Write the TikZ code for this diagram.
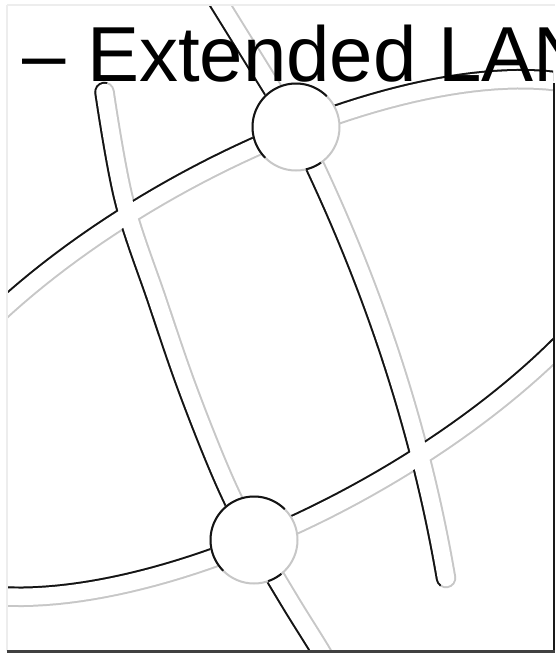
\documentclass[tikz,border=0pt]{standalone}
\usepackage{fontspec}
\setmainfont{Liberation Sans}
\definecolor{edgedark}{gray}{0.08}
\definecolor{edgelight}{gray}{0.78}
\definecolor{framelight}{gray}{0.93}
\newcommand\LeftMer[1]{\draw[#1] plot[smooth,tension=0.6] coordinates {(104.5,92) (124,200) (157,300) (188,390) (224,480) (254,540) (289,600) (320,650) (332,672)};}
\newcommand\RightMer[1]{\draw[#1] (200,-28) -- (296,127) .. controls (371,277) and (420.5,428) .. (446,578);}
\newcommand\EllHalf[3]{\draw[#1] plot[domain=#2:#3,samples=181,variable=\t] ({270+432*cos(\t)*0.8788-178*sin(\t)*0.4772},{338-432*cos(\t)*0.4772-178*sin(\t)*0.8788});}
\begin{document}
\begin{tikzpicture}[x=1pt,y=-1pt,
  bandout/.style={line width=20.5pt},
  bandin/.style={draw=white,line width=16.5pt},
  rim/.style={line width=2pt},
  hub/.style={circle,fill=white,draw=edgelight,line width=2pt,minimum size=87pt,inner sep=0pt}]
\useasboundingbox (0,0) rectangle (555,656);
\fill[white] (0,0) rectangle (555,656);
\begin{scope}
  \clip (7,5) rectangle (553,651);
  % light rims
  \EllHalf{edgelight,bandout}{0}{360}
  \LeftMer{edgelight,bandout,line cap=round}
  \RightMer{edgelight,bandout,line cap=round}
  % dark rims
  \begin{scope}
    \clip plot[domain=0:180,samples=181,variable=\t] ({270+432*cos(\t)*0.8788-178*sin(\t)*0.4772},{338-432*cos(\t)*0.4772-178*sin(\t)*0.8788}) -- (-300,-300) -- (900,-300) -- cycle;
    \EllHalf{edgedark,bandout}{0}{180}
  \end{scope}
  \begin{scope}
    \clip plot[domain=180:360,samples=181,variable=\t] ({270+432*cos(\t)*0.8788-178*sin(\t)*0.4772},{338-432*cos(\t)*0.4772-178*sin(\t)*0.8788}) -- (900,-300) -- (-300,-300) -- cycle;
    \EllHalf{edgedark,bandout}{180}{360}
  \end{scope}
  \begin{scope}
    \clip (149.5,-58) -- plot[smooth,tension=0.6] coordinates {(104.5,92) (124,200) (157,300) (188,390) (224,480) (254,540) (289,600) (320,650) (332,672)} -- (340,720) -- (-100,720) -- (-100,-58) -- cycle;
    \LeftMer{edgedark,bandout,line cap=round}
  \end{scope}
  \begin{scope}
    \clip (-100,-28) -- (200,-28) -- (296,127) .. controls (371,277) and (420.5,428) .. (446,578) -- (341,728) -- (-100,728) -- cycle;
    \RightMer{edgedark,bandout,line cap=round}
  \end{scope}
  % band interiors
  \EllHalf{bandin}{0}{360}
  \LeftMer{bandin,line cap=round}
  \RightMer{bandin,line cap=round}
  % hubs
  \node[hub] (hubTop) at (296,127) {};
  \node[hub] (hubBot) at (254,540) {};
  \draw[edgedark,rim] plot[domain=135:315,samples=60] ({296+43.5*cos(\x)},{127+43.5*sin(\x)});
  \draw[edgedark,rim] plot[domain=135:315,samples=60] ({254+43.5*cos(\x)},{540+43.5*sin(\x)});
  \draw[edgedark,rim] plot[domain=55:77,samples=12] ({296+43.5*cos(\x)},{127+43.5*sin(\x)});
  \draw[edgedark,rim] plot[domain=51:71,samples=12] ({254+43.5*cos(\x)},{540+43.5*sin(\x)});
\end{scope}
% frame
\draw[framelight,line width=2pt] (7,5) -- (555,5);
\draw[framelight,line width=2pt] (7,5) -- (7,651);
\draw[black!90,line width=2pt] (553.5,83) -- (553.5,652.5);
\draw[black!75,line width=3pt] (7,651.5) -- (555,651.5);
% title
\node[anchor=base west,inner sep=0pt,font=\fontsize{78pt}{78pt}\selectfont] (title) at (22,81) {– Extended LAN};
\end{tikzpicture}
\end{document}
